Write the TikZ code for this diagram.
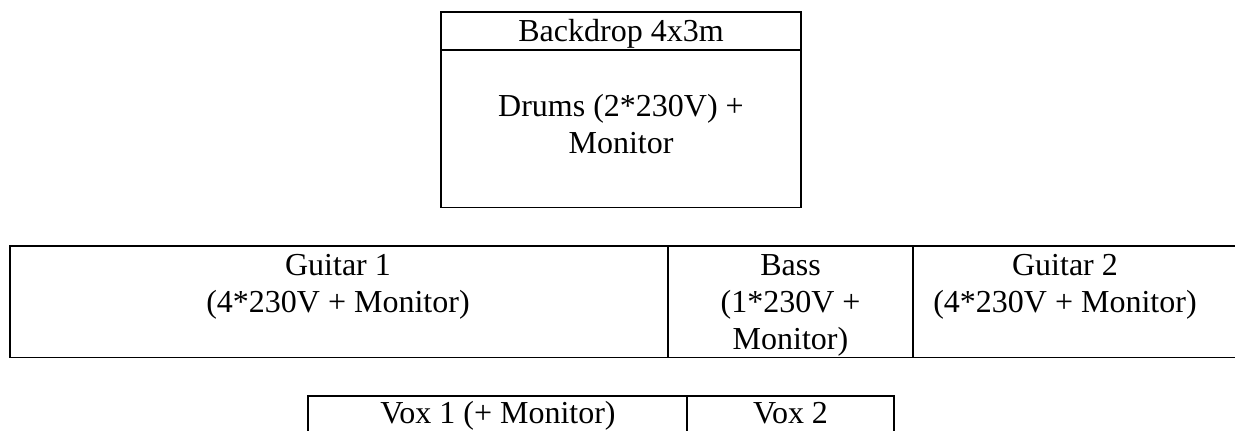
\documentclass[tikz,border=0pt]{standalone}
\usepackage{fontspec}
\setmainfont{Liberation Serif}
\begin{document}
\begin{tikzpicture}[x=1pt,y=-1pt,
  cellline/.style={draw=black, line width=1.3pt},
  txt/.style={font=\fontsize{32}{37}\selectfont, anchor=base, inner sep=0pt}]
\useasboundingbox (0,0) rectangle (1235,431);
% top box
\draw[cellline] (441,12) rectangle (801,207.5);
\draw[cellline] (441,50) -- (801,50);
\node[txt] (backdrop) at (621,41) {Backdrop 4x3m};
\node[txt] (drumsA) at (621,116) {Drums (2*230V) +};
\node[txt] (drumsB) at (621,153) {Monitor};
% middle row
\draw[cellline] (10,246) rectangle (1240,357.5);
\draw[cellline] (668,246) -- (668,357.5);
\draw[cellline] (913,246) -- (913,357.5);
\node[txt] (g1a) at (338,275) {Guitar 1};
\node[txt] (g1b) at (338,312) {(4*230V + Monitor)};
\node[txt] (bassA) at (790.5,275) {Bass};
\node[txt] (bassB) at (790.5,312) {(1*230V +};
\node[txt] (bassC) at (790.5,349) {Monitor)};
\node[txt] (g2a) at (1065,275) {Guitar 2};
\node[txt] (g2b) at (1065,312) {(4*230V + Monitor)};
% bottom row
\draw[cellline] (308,440) -- (308,396) -- (894,396) -- (894,440);
\draw[cellline] (687,396) -- (687,440);
\node[txt] (vox1) at (498,423) {Vox 1 (+ Monitor)};
\node[txt] (vox2) at (790.5,423) {Vox 2};
\end{tikzpicture}
\end{document}
